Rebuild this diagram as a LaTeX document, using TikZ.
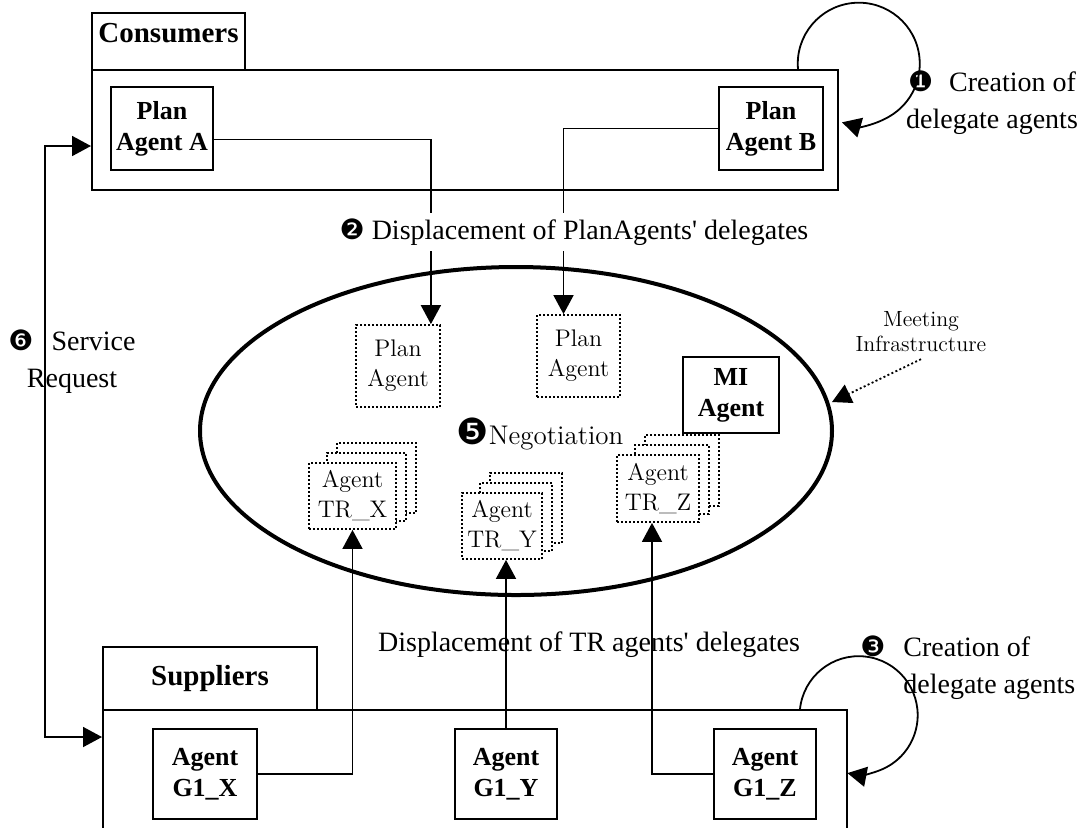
\documentclass[tikz,border=0pt]{standalone}
\usepackage{fontspec}
\newfontfamily\timesfont{Liberation Serif}
\newfontfamily\dingfont{DejaVu Sans}
\usetikzlibrary{arrows.meta, fit, shapes.geometric, calc}
\newcommand{\Phase}[2][14]{{\dingfont\fontsize{#1}{#1}\selectfont #2}}
% a delegate with two copies stacked behind it
\newcommand{\Stack}[6]{%
  \foreach \i in {2,1}
    \node[delegate, fit={(#2+8+10*\i,#3-10*\i) (#4+10*\i,#5-8*\i)}] (#1-\i) {};
  \node[delegate, fit={(#2,#3) (#4,#5)}, label={[delegatetext]center:{#6}}] (#1) {};
}
\tikzset{
    groupbox/.style={draw, line width=1pt, inner sep=0pt},
    tabtext/.style={font=\timesfont\bfseries\fontsize{14.5}{17}\selectfont},
    agent/.style={groupbox, fill=white},
    agenttext/.style={align=center, inner sep=0pt, font=\timesfont\bfseries\fontsize{13}{15.5}\selectfont},
    delegate/.style={draw, dash pattern=on 1pt off 1pt, line width=0.9pt, inner sep=0pt, fill=white},
    delegatetext/.style={align=center, inner sep=0pt, font=\fontsize{12}{15}\selectfont},
    note/.style={font=\timesfont\fontsize{14}{18.5}\selectfont, align=center, inner sep=1pt},
    link/.style={line width=0.9pt},
    tip/.style={-{Triangle[length=9.5pt,width=10pt]}},
    tips/.style={{Triangle[length=9.5pt,width=10pt]}-{Triangle[length=9.5pt,width=10pt]}},
}

\begin{document}
\begin{tikzpicture}[x=0.5pt, y=-0.5pt]
    \useasboundingbox (0,0) rectangle (1092,827);
    \clip (0,0) rectangle (1092,827);

    % consumers side
    \node[groupbox, fit={(92,13) (245,70)}, label={[tabtext, yshift=4pt]center:Consumers}] (constab) {};
    \node[groupbox, fit={(92,70) (838,190)}] (cons) {};
    \node[agent, fit={(111,87) (213,170)}, label={[agenttext]center:{Plan\\Agent A}}] (planA) {};
    \node[agent, fit={(719,87) (823,170)}, label={[agenttext]center:{Plan\\Agent B}}] (planB) {};

    % meeting infrastructure
    \node[ellipse, draw, line width=2pt, minimum width=316pt, minimum height=164pt, inner sep=0pt] (meeting) at (516,431) {};
    \node[delegate, fit={(356,325) (440,407)}, label={[delegatetext]center:{Plan\\Agent}}] (dlgA) {};
    \node[delegate, fit={(537,315) (620,397)}, label={[delegatetext]center:{Plan\\Agent}}] (dlgB) {};
    \node[agent, fit={(683,357) (779,433)}, label={[agenttext]center:{MI\\Agent}}] (miag) {};
    \node[font=\fontsize{13.5}{16}\selectfont] (nego) at (540,434) {\Phase[18]{❺}Negotiation};
    \Stack{trx}{309}{463}{396}{529}{Agent\\TR\_X}
    \Stack{try}{462}{493}{542}{559}{Agent\\TR\_Y}
    \Stack{trz}{617}{455}{699}{522}{Agent\\TR\_Z}

    \node[font=\fontsize{11}{12.5}\selectfont, align=center] (infra) at (921,332) {Meeting\\Infrastructure};
    \coordinate (infratip) at (832,402);
    \draw[line width=0.9pt, dash pattern=on 1pt off 1.2pt, tip] (infra.south) -- (infratip);

    % suppliers side
    \node[groupbox, fit={(103,647) (317,710)}, label={[tabtext]center:Suppliers}] (supptab) {};
    \node[groupbox, fit={(103,710) (847,860)}] (supp) {};
    \node[agent, fit={(153,729) (257,819)}, label={[agenttext]center:{Agent\\G1\_X}}] (gx) {};
    \node[agent, fit={(455,729) (557,819)}, label={[agenttext]center:{Agent\\G1\_Y}}] (gy) {};
    \node[agent, fit={(714,729) (816,819)}, label={[agenttext]center:{Agent\\G1\_Z}}] (gz) {};

    % delegates moving in
    \draw[link, tip] ([yshift=-5.5pt]planA.east) -| ([xshift=-5pt]dlgA.north east);
    \draw[link, tip] (planB.west) -| ([xshift=-7.5pt]dlgB.north);
    \node[note, fill=white, inner ysep=3pt] (disp1) at (574,232) {\Phase{❷} Displacement of PlanAgents' delegates};

    \draw[link, tip] (gx.east) -| (trx.south);
    \draw[link, tip] (gy.north) -- (gy.north |- try.south);
    \draw[link, tip] (gz.west) -| ([xshift=-3pt]trz.south);
    \node[note] (disp2) at (589,645) {Displacement of TR agents' delegates};

    % creation loops
    \draw[link, tip] ([xshift=-20.5pt]cons.north east) arc[start angle=175, end angle=466, radius=61];
    \node[note] (create1) at (992,103) {\Phase{❶}\hspace{8pt}Creation of\\delegate agents};
    \draw[link, tip] ([xshift=-24pt]supp.north east) arc[start angle=186, end angle=461, radius=59];
    \node[note, align=left, anchor=west] (create3) at (901,668) {\llap{\Phase{❸}\hspace{9pt}}Creation of\\delegate agents};

    % service request
    \coordinate (reqtop) at (45,146);
    \coordinate (reqbot) at (45,737);
    \draw[link, tips] (cons.west |- reqtop) -- (reqtop) -- (reqbot) -- (supp.west |- reqbot);
    \node[note] (req) at (72,362) {\Phase{❻}\hspace{9pt}Service\\Request};
\end{tikzpicture}
\end{document}
